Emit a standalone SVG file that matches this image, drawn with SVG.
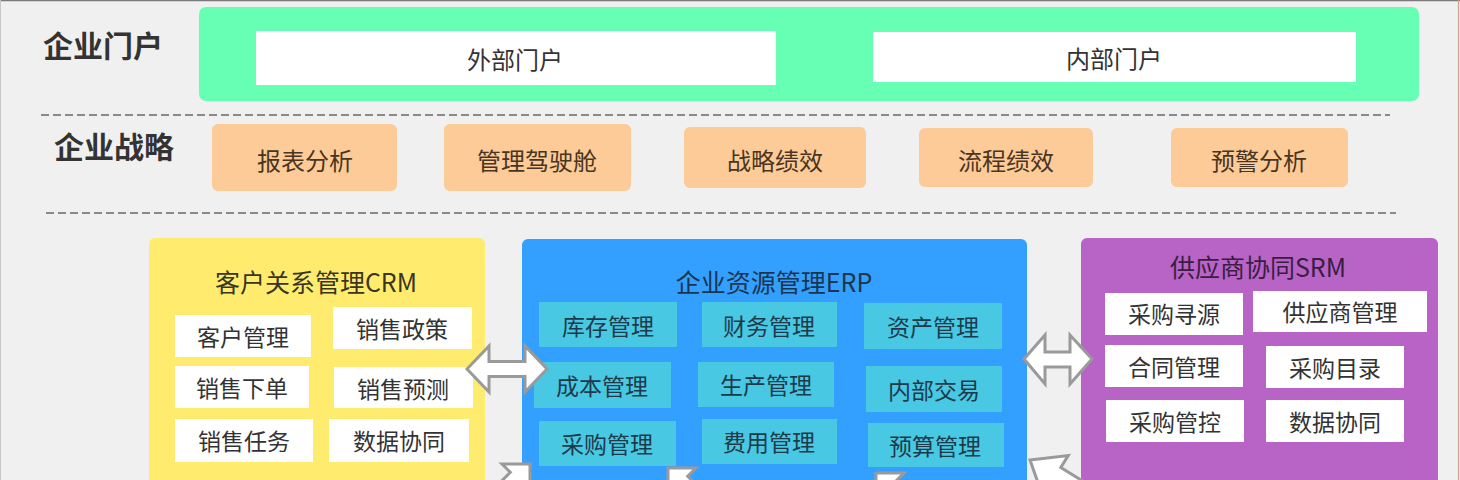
<svg xmlns="http://www.w3.org/2000/svg" width="1460" height="480" viewBox="0 0 1460 480">
<style>
text{font-family:"Noto Sans CJK SC","Microsoft YaHei",sans-serif;text-anchor:middle;dominant-baseline:central}
.sec{font-size:30px;font-weight:bold;fill:#333}
.t25{font-size:24px;fill:#333}
.strat{fill:#FCCB98}
.stx{font-size:24px;fill:#4a3522}
.wb{fill:#fff}
.it{font-size:23px;fill:#333}
.eb{fill:#48C8E2}
.et{font-size:23px;fill:#1d3a4a}
.dash{stroke:#8a8a8a;stroke-width:2;stroke-dasharray:8 4;fill:none}
.arr{fill:#fff;stroke:#9a9a9a;stroke-width:3;stroke-linejoin:miter}
</style>
<rect x="0" y="0" width="1460" height="480" fill="#f0f0f0"/>
<line x1="0" y1="0.5" x2="1460" y2="0.5" stroke="#7a7a7a" stroke-width="1.5"/>
<line x1="0.5" y1="0" x2="0.5" y2="480" stroke="#c8c8c8" stroke-width="1"/>
<line x1="1458.5" y1="0" x2="1458.5" y2="480" stroke="#d8a090" stroke-width="1.2"/>

<g id="portal">
<text class="sec" x="103" y="44">企业门户</text>
<rect x="199" y="7" width="1220" height="94" rx="7" fill="#66FFB3"/>
<g id="portal-ext"><rect class="wb" x="256" y="31" width="520" height="54"/><text class="t25" x="515" y="58">外部门户</text></g>
<g id="portal-int"><rect class="wb" x="873" y="32" width="483" height="50"/><text class="t25" x="1114" y="57">内部门户</text></g>
</g>
<line class="dash" x1="41" y1="115" x2="1390" y2="115"/>

<g id="strategy">
<text class="sec" x="114" y="145">企业战略</text>
<g id="s1"><rect class="strat" x="212" y="124" width="185" height="67" rx="6"/><text class="stx" x="305" y="159">报表分析</text></g>
<g id="s2"><rect class="strat" x="444" y="124" width="187" height="67" rx="6"/><text class="stx" x="537" y="159">管理驾驶舱</text></g>
<g id="s3"><rect class="strat" x="684" y="127" width="182" height="61" rx="6"/><text class="stx" x="775" y="159">战略绩效</text></g>
<g id="s4"><rect class="strat" x="919" y="128" width="174" height="59" rx="6"/><text class="stx" x="1006" y="159">流程绩效</text></g>
<g id="s5"><rect class="strat" x="1171" y="128" width="177" height="59" rx="6"/><text class="stx" x="1259" y="159">预警分析</text></g>
</g>
<line class="dash" x1="46" y1="213" x2="1396" y2="213"/>

<g id="crm">
<rect x="149" y="238" width="336" height="260" rx="6" fill="#FFEC6E"/>
<text x="316" y="281" style="font-size:25px;fill:#3a3520">客户关系管理CRM</text>
<rect class="wb" x="175" y="315" width="136" height="42"/><text class="it" x="243" y="336">客户管理</text>
<rect class="wb" x="333" y="307" width="139" height="42"/><text class="it" x="402" y="328">销售政策</text>
<rect class="wb" x="175" y="366" width="134" height="42"/><text class="it" x="242" y="387">销售下单</text>
<rect class="wb" x="334" y="367" width="139" height="41"/><text class="it" x="403" y="388">销售预测</text>
<rect class="wb" x="175" y="419" width="138" height="43"/><text class="it" x="244" y="440">销售任务</text>
<rect class="wb" x="329" y="419" width="140" height="43"/><text class="it" x="399" y="440">数据协同</text>
</g>

<g id="erp">
<rect x="522" y="239" width="505" height="260" rx="6" fill="#33A0FF"/>
<text x="774" y="281" style="font-size:25px;fill:#1a3550">企业资源管理ERP</text>
<rect class="eb" x="539" y="302" width="138" height="45"/><text class="et" x="608" y="325">库存管理</text>
<rect class="eb" x="702" y="302" width="135" height="45"/><text class="et" x="769" y="325">财务管理</text>
<rect class="eb" x="864" y="303" width="138" height="46"/><text class="et" x="933" y="326">资产管理</text>
<rect class="eb" x="534" y="362" width="137" height="46"/><text class="et" x="602" y="385">成本管理</text>
<rect class="eb" x="698" y="362" width="136" height="45"/><text class="et" x="766" y="384">生产管理</text>
<rect class="eb" x="866" y="366" width="136" height="46"/><text class="et" x="934" y="389">内部交易</text>
<rect class="eb" x="539" y="421" width="137" height="45"/><text class="et" x="607" y="443">采购管理</text>
<rect class="eb" x="702" y="419" width="135" height="45"/><text class="et" x="769" y="441">费用管理</text>
<rect class="eb" x="868" y="423" width="136" height="44"/><text class="et" x="935" y="445">预算管理</text>
</g>

<g id="srm">
<rect x="1081" y="238" width="357" height="260" rx="6" fill="#B864C6"/>
<text x="1258" y="266" style="font-size:25px;fill:#3a1d42">供应商协同SRM</text>
<rect class="wb" x="1105" y="293" width="138" height="42"/><text class="it" x="1174" y="313">采购寻源</text>
<rect class="wb" x="1253" y="291" width="174" height="41"/><text class="it" x="1340" y="311">供应商管理</text>
<rect class="wb" x="1105" y="345" width="138" height="42"/><text class="it" x="1174" y="366">合同管理</text>
<rect class="wb" x="1266" y="346" width="138" height="42"/><text class="it" x="1335" y="367">采购目录</text>
<rect class="wb" x="1106" y="400" width="138" height="42"/><text class="it" x="1175" y="421">采购管控</text>
<rect class="wb" x="1266" y="400" width="138" height="42"/><text class="it" x="1335" y="421">数据协同</text>
</g>

<g id="connectors">
<path class="arr" d="M467,369 L489,346 L489,361.5 L525,361.5 L525,346 L547,369 L525,392 L525,376.5 L489,376.5 L489,392 Z"/>
<path class="arr" d="M1024,359 L1045,335 L1045,352 L1070,352 L1070,335 L1092,359 L1070,384 L1070,367 L1045,367 L1045,384 Z"/>
<path class="arr" d="M530,464 L530,492 L521.7,483.7 L479.7,525.7 L468.3,514.3 L510.3,472.3 L502,464 Z"/>
<path class="arr" d="M668,468 L696,468 L687.7,476.3 L729.7,518.3 L718.3,529.7 L676.3,487.7 L668,496 Z"/>
<path class="arr" d="M876,473 L904,473 L895.7,481.3 L937.7,523.3 L926.3,534.7 L884.3,492.7 L876,501 Z"/>
<path class="arr" d="M1030,460 L1068.2,455.5 L1060.8,467.4 L1111.8,499.2 L1101.2,516.2 L1050.2,484.4 L1042.8,496.3 Z"/>
</g>
</svg>
